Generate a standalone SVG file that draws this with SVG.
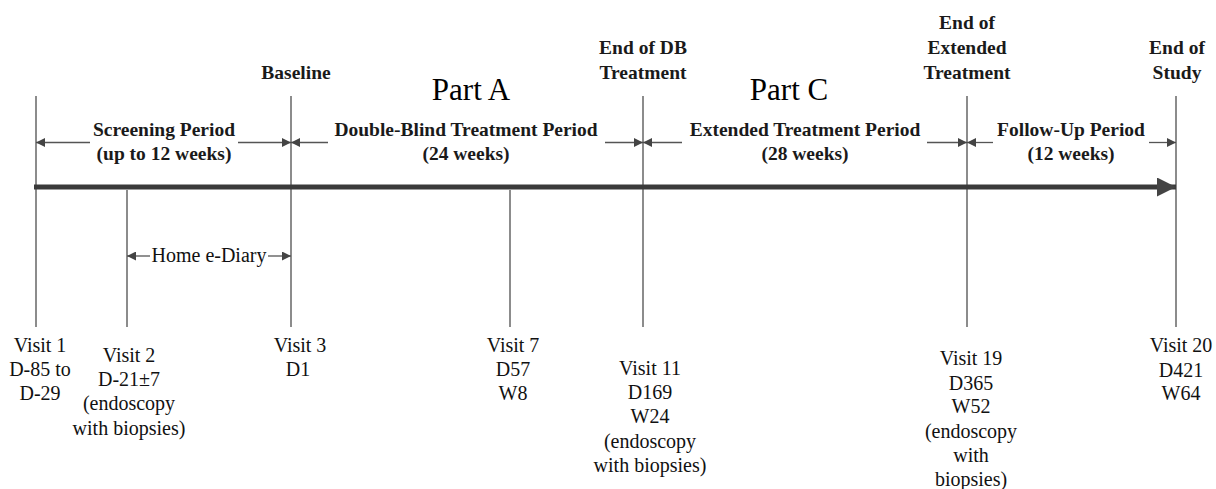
<svg xmlns="http://www.w3.org/2000/svg" width="1216" height="489" viewBox="0 0 1216 489">
<style>
.v{stroke:#666;stroke-width:1.5;fill:none}
.a{stroke:#555;stroke-width:1.3;fill:none}
.hd{font-family:'Liberation Serif','Times New Roman',serif;font-weight:bold;font-size:19.5px;fill:#1a1a1a;text-anchor:middle}
.pt{font-family:'Liberation Serif','Times New Roman',serif;font-size:31px;fill:#000;text-anchor:middle}
.lb{font-family:'Liberation Serif','Times New Roman',serif;font-size:20px;fill:#111;text-anchor:middle}
</style>
<defs>
<marker id="ah" viewBox="0 0 10 10" refX="10" refY="5" markerWidth="11" markerHeight="9" markerUnits="userSpaceOnUse" orient="auto">
<path d="M0,0 L10,5 L0,10 Z" fill="#444"/>
</marker>
<marker id="big" viewBox="0 0 10 10" refX="10" refY="5" markerWidth="28" markerHeight="19" markerUnits="userSpaceOnUse" orient="auto">
<path d="M0,0 L10,5 L0,10 Z" fill="#444"/>
</marker>
</defs>
<rect width="1216" height="489" fill="#fff"/>
<g id="connectors">
<line class="v" x1="36" y1="96" x2="36" y2="327"/>
<line class="v" x1="127" y1="190" x2="127" y2="327"/>
<line class="v" x1="291" y1="96" x2="291" y2="327"/>
<line class="v" x1="510" y1="190" x2="510" y2="327"/>
<line class="v" x1="643" y1="96" x2="643" y2="327"/>
<line class="v" x1="967" y1="96" x2="967" y2="327"/>
<line class="v" x1="1176" y1="96" x2="1176" y2="327"/>
<line x1="34" y1="187" x2="1176" y2="187" stroke="#3a3a3a" stroke-width="5" marker-end="url(#big)"/>
<line class="a" x1="90" y1="142.5" x2="36" y2="142.5" marker-end="url(#ah)"/>
<line class="a" x1="238" y1="142.5" x2="291" y2="142.5" marker-end="url(#ah)"/>
<line class="a" x1="328" y1="142.5" x2="291" y2="142.5" marker-end="url(#ah)"/>
<line class="a" x1="605" y1="142.5" x2="643" y2="142.5" marker-end="url(#ah)"/>
<line class="a" x1="682" y1="142.5" x2="643" y2="142.5" marker-end="url(#ah)"/>
<line class="a" x1="927" y1="142.5" x2="967" y2="142.5" marker-end="url(#ah)"/>
<line class="a" x1="993" y1="142.5" x2="967" y2="142.5" marker-end="url(#ah)"/>
<line class="a" x1="1149" y1="142.5" x2="1176" y2="142.5" marker-end="url(#ah)"/>
<line class="a" x1="150" y1="256" x2="127" y2="256" marker-end="url(#ah)"/>
<line class="a" x1="268" y1="256" x2="291" y2="256" marker-end="url(#ah)"/>
</g>
<g id="milestones">
<text class="hd" x="296" y="79">Baseline</text>
<text class="hd" x="643" y="54">End of DB</text>
<text class="hd" x="643" y="79">Treatment</text>
<text class="hd" x="967" y="29">End of</text>
<text class="hd" x="967" y="54">Extended</text>
<text class="hd" x="967" y="79">Treatment</text>
<text class="hd" x="1177" y="54">End of</text>
<text class="hd" x="1177" y="79">Study</text>
</g>
<g id="parts">
<text class="pt" x="471" y="100">Part A</text>
<text class="pt" x="789" y="100">Part C</text>
</g>
<g id="periods">
<text class="hd" x="164" y="136">Screening Period</text>
<text class="hd" x="164" y="160">(up to 12 weeks)</text>
<text class="hd" x="466" y="136">Double-Blind Treatment Period</text>
<text class="hd" x="466" y="160">(24 weeks)</text>
<text class="hd" x="805" y="136">Extended Treatment Period</text>
<text class="hd" x="805" y="160">(28 weeks)</text>
<text class="hd" x="1071" y="136">Follow-Up Period</text>
<text class="hd" x="1071" y="160">(12 weeks)</text>
</g>
<g id="diary">
<text class="lb" x="209" y="262">Home e-Diary</text>
</g>
<g id="visit1"><text class="lb" x="40" y="352">Visit 1</text><text class="lb" x="40" y="376">D-85 to</text><text class="lb" x="40" y="400">D-29</text></g>
<g id="visit2"><text class="lb" x="129" y="362">Visit 2</text><text class="lb" x="129" y="386">D-21±7</text><text class="lb" x="129" y="410">(endoscopy</text><text class="lb" x="129" y="435">with biopsies)</text></g>
<g id="visit3"><text class="lb" x="300" y="352">Visit 3</text><text class="lb" x="298" y="376">D1</text></g>
<g id="visit7"><text class="lb" x="513" y="352">Visit 7</text><text class="lb" x="513" y="376">D57</text><text class="lb" x="513" y="400">W8</text></g>
<g id="visit11"><text class="lb" x="650" y="375">Visit 11</text><text class="lb" x="650" y="399">D169</text><text class="lb" x="650" y="423">W24</text><text class="lb" x="650" y="448">(endoscopy</text><text class="lb" x="650" y="472">with biopsies)</text></g>
<g id="visit19"><text class="lb" x="971" y="365">Visit 19</text><text class="lb" x="971" y="390">D365</text><text class="lb" x="971" y="413">W52</text><text class="lb" x="971" y="438">(endoscopy</text><text class="lb" x="971" y="462">with</text><text class="lb" x="971" y="486">biopsies)</text></g>
<g id="visit20"><text class="lb" x="1181" y="352">Visit 20</text><text class="lb" x="1181" y="377">D421</text><text class="lb" x="1181" y="400">W64</text></g>
</svg>
